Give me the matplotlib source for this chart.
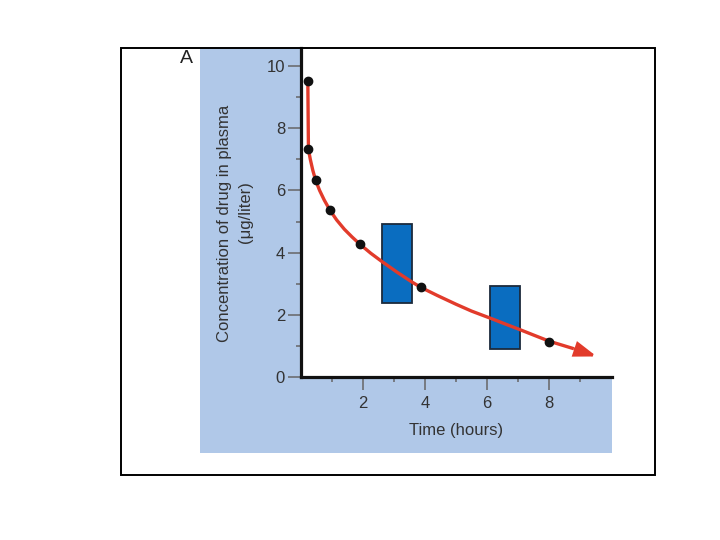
import matplotlib
matplotlib.use("Agg")
import matplotlib.pyplot as plt
from matplotlib.patches import Rectangle, FancyArrowPatch

plt.rcParams['font.family'] = ['Liberation Sans', 'DejaVu Sans']

# Measured concentration points (time in hours, µg/liter)
pt_time = [0.22, 0.24, 0.47, 0.93, 1.90, 3.87, 8.01]
pt_conc = [9.51, 7.32, 6.33, 5.37, 4.27, 2.88, 1.14]

# Red decay curve
curve_time = [0.22, 0.24, 0.30, 0.38, 0.47, 0.60, 0.75, 0.93, 1.15, 1.40, 1.65,
              1.90, 2.25, 2.60, 3.10, 3.57, 3.87, 4.40, 5.00, 5.50, 6.11, 6.60,
              7.07, 7.50, 8.01, 8.80, 9.54]
curve_conc = [9.51, 7.32, 7.00, 6.65, 6.33, 6.00, 5.69, 5.37, 5.05, 4.75, 4.50,
              4.27, 3.98, 3.72, 3.37, 3.06, 2.88, 2.62, 2.34, 2.12, 1.89, 1.70,
              1.52, 1.35, 1.15, 0.91, 0.66]

# Blue dosing boxes: (t start, t end, low, high)
box_t0 = [2.60, 6.11]
box_t1 = [3.57, 7.07]
box_lo = [2.39, 0.89]
box_hi = [4.91, 2.93]

xticks_major = [2, 4, 6, 8]
xticks_minor = [1, 3, 5, 7, 9]
yticks_major = [0, 2, 4, 6, 8, 10]
yticks_minor = [1, 3, 5, 7, 9]

W, H = 720, 540
fig = plt.figure(figsize=(7.2, 5.4), dpi=100)
fig.patch.set_facecolor('white')

def fx(px):
    return px / W

def fy(py):
    return 1 - py / H

# light-blue panel background
fig.patches.append(Rectangle((fx(200), fy(453.3)), fx(612) - fx(200), fy(48.3) - fy(453.3),
                             transform=fig.transFigure, facecolor='#b0c8e8',
                             edgecolor='none', zorder=0))
# outer frame
fig.patches.append(Rectangle((fx(120.7), fy(475)), fx(654.7) - fx(120.7), fy(48.3) - fy(475),
                             transform=fig.transFigure, facecolor='none',
                             edgecolor='black', linewidth=1.4, zorder=5))

x_right_px = 612.5
ax = fig.add_axes([fx(301), fy(377), fx(x_right_px) - fx(301), fy(48.3) - fy(377)])
ax.set_zorder(2)
ax.set_facecolor('white')
ax.set_xlim(0, (x_right_px - 301) / 31.0)
ax.set_ylim(0, 10.57)

for s in ['top', 'right']:
    ax.spines[s].set_visible(False)
for s in ['left', 'bottom']:
    ax.spines[s].set_linewidth(2.3)
    ax.spines[s].set_color('#111111')
ax.spines['bottom'].set_bounds(0, (611.5 - 301) / 31.0)

ax.set_xticks(xticks_major)
ax.set_xticks(xticks_minor, minor=True)
ax.set_yticks(yticks_major)
ax.set_yticks(yticks_minor, minor=True)
ax.set_xticklabels([str(v) for v in xticks_major])
ax.set_yticklabels([str(v) for v in yticks_major])
ax.tick_params(axis='both', which='major', direction='out', color='#666666',
               width=1.1, labelsize=12, labelcolor='#333333')
ax.tick_params(axis='y', which='major', length=9.5, pad=2)
ax.tick_params(axis='x', which='major', length=9.5, pad=4)
ax.tick_params(axis='both', which='minor', direction='out', color='#666666',
               width=1.1, length=3.5)

red = '#e23b2b'
for t0, t1, lo, hi in zip(box_t0, box_t1, box_lo, box_hi):
    ax.add_patch(Rectangle((t0, lo), t1 - t0, hi - lo, facecolor='#0a6dc0',
                           edgecolor='#1b2a3c', linewidth=1.3, zorder=2))

ax.plot(curve_time[:-1], curve_conc[:-1], color=red, linewidth=2.4,
        solid_capstyle='butt', solid_joinstyle='round', zorder=3, clip_on=False)
arrow = FancyArrowPatch((curve_time[-2], curve_conc[-2]), (curve_time[-1], curve_conc[-1]),
                        arrowstyle='-|>,head_length=1.3,head_width=0.45',
                        mutation_scale=10, facecolor=red, edgecolor=red,
                        linewidth=2.0, shrinkA=0, shrinkB=0, zorder=3,
                        joinstyle='miter', capstyle='butt')
ax.add_patch(arrow)
ax.plot(pt_time, pt_conc, 'o', color='#111111', markersize=6, zorder=4, clip_on=False)

fig.text(fx(224), fy(223), 'Concentration of drug in plasma', rotation=90,
         ha='center', va='center', fontsize=12, color='#333333')
fig.text(fx(245), fy(212), '(μg/liter)', rotation=90,
         ha='center', va='center', fontsize=12, color='#333333')
fig.text(fx(456), fy(431), 'Time (hours)', ha='center', va='center',
         fontsize=12, color='#333333')
fig.text(fx(186.7), fy(58.5), 'A', ha='center', va='center', fontsize=14,
         color='#222222')

fig.savefig('out.png', dpi=100)
